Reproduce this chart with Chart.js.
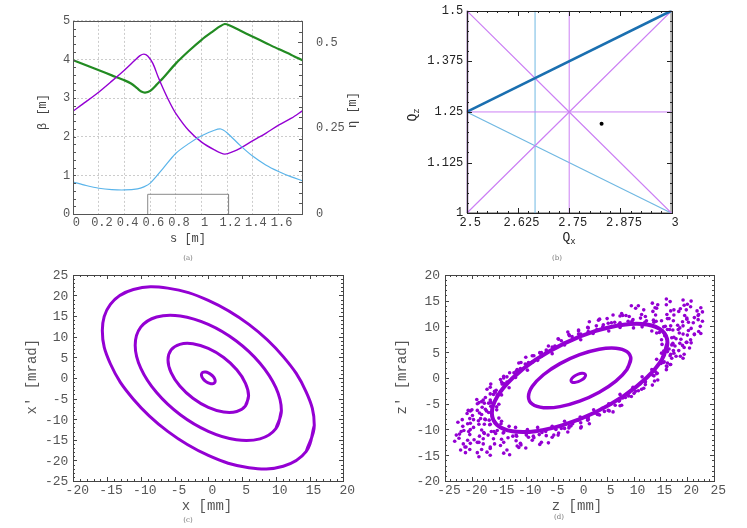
<!DOCTYPE html>
<html>
<head>
<meta charset="utf-8">
<script src="https://cdn.jsdelivr.net/npm/chart.js@4.4.1/dist/chart.umd.min.js"></script>
<style>
body { margin: 0; background: #fff; width: 747px; height: 528px; position: relative; overflow: hidden; }
canvas { position: absolute; }
</style>
</head>
<body>
<canvas id="chart-a" width="380" height="262" style="left:0;top:0"></canvas>
<canvas id="chart-b" width="367" height="262" style="left:380px;top:0"></canvas>
<canvas id="chart-c" width="380" height="266" style="left:0;top:262px"></canvas>
<canvas id="chart-d" width="367" height="266" style="left:380px;top:262px"></canvas>
<script>
// (a) lattice functions along s [m]
var greenS = [0, 0.1, 0.2, 0.3, 0.4, 0.45, 0.5, 0.53, 0.56, 0.6, 0.65, 0.7, 0.8, 0.9, 1.0, 1.08, 1.14, 1.18, 1.22, 1.3, 1.4, 1.5, 1.6, 1.7, 1.785];
var greenBeta = [3.98, 3.85, 3.72, 3.59, 3.46, 3.38, 3.25, 3.17, 3.145, 3.19, 3.35, 3.52, 3.90, 4.22, 4.51, 4.71, 4.85, 4.92, 4.88, 4.75, 4.59, 4.43, 4.27, 4.12, 3.98];
var purpleS = [0, 0.1, 0.2, 0.3, 0.4, 0.48, 0.52, 0.55, 0.58, 0.62, 0.66, 0.7, 0.75, 0.8, 0.9, 1.0, 1.1, 1.18, 1.25, 1.3, 1.4, 1.5, 1.6, 1.7, 1.785];
var purpleBeta = [2.67, 2.91, 3.16, 3.44, 3.73, 3.98, 4.10, 4.14, 4.09, 3.90, 3.56, 3.25, 2.90, 2.60, 2.16, 1.86, 1.66, 1.55, 1.62, 1.70, 1.90, 2.09, 2.30, 2.48, 2.67];
var blueS = [0, 0.1, 0.2, 0.3, 0.4, 0.5, 0.55, 0.6, 0.7, 0.8, 0.9, 1.0, 1.1, 1.15, 1.2, 1.3, 1.4, 1.5, 1.6, 1.7, 1.785];
var blueEta = [0.093, 0.083, 0.075, 0.071, 0.070, 0.073, 0.079, 0.090, 0.133, 0.177, 0.205, 0.228, 0.244, 0.2475, 0.236, 0.200, 0.168, 0.143, 0.124, 0.108, 0.097];
var magnetS = [0.58, 0.58, 1.21, 1.21];
var magnetH = [0, 0.51, 0.51, 0];

// (b) tune diagram: resonance lines and working point
var qLineMain = [[2.5, 1.25], [3, 1.5]];
var qLineThird = [[2.6667, 1], [2.6667, 1.5]];
var qLineCouple = [[2.5, 1.25], [3, 1]];
var qLineQuarterX = [[2.75, 1], [2.75, 1.5]];
var qLineQuarterZ = [[2.5, 1.25], [3, 1.25]];
var qLineDiffDown = [[2.5, 1.5], [2.75, 1.25], [3, 1]];
var qLineDiffUp = [[2.5, 1], [2.75, 1.25], [3, 1.5]];
var qLineInteger = [[2.5, 1], [2.5, 1.5]];
var qEdgeRight = [[3, 1], [3, 1.5]];
var qEdgeBottom = [[2.5, 1], [3, 1]];
var workingPoint = [[2.829, 1.221]];

// (c) horizontal phase space x [mm], x' [mrad]
var xRing1 = [[15.7, -11.5], [14.51, -17.83], [11.1, -21.42], [6.01, -21.77], [0, -18.8], [-6.01, -12.97], [-11.1, -5.16], [-14.51, 3.43], [-15.7, 11.5], [-14.51, 17.83], [-11.1, 21.42], [-6.01, 21.77], [0, 18.8], [6.01, 12.97], [11.1, 5.16], [14.51, -3.43]];
var xRing2 = [[10.83, -7.94], [10.01, -12.3], [7.66, -14.78], [4.15, -15.02], [0, -12.97], [-4.15, -8.95], [-7.66, -3.56], [-10.01, 2.37], [-10.83, 7.94], [-10.01, 12.3], [-7.66, 14.78], [-4.15, 15.02], [0, 12.97], [4.15, 8.95], [7.66, 3.56], [10.01, -2.37]];
var xRing3 = [[5.97, -4.37], [5.51, -6.78], [4.22, -8.14], [2.28, -8.27], [0, -7.14], [-2.28, -4.93], [-4.22, -1.96], [-5.51, 1.3], [-5.97, 4.37], [-5.51, 6.78], [-4.22, 8.14], [-2.28, 8.27], [0, 7.14], [2.28, 4.93], [4.22, 1.96], [5.51, -1.3]];
var xRing4 = [[1.02, -0.75], [0.94, -1.16], [0.72, -1.39], [0.39, -1.42], [0, -1.22], [-0.39, -0.84], [-0.72, -0.34], [-0.94, 0.22], [-1.02, 0.75], [-0.94, 1.16], [-0.72, 1.39], [-0.39, 1.42], [0, 1.22], [0.39, 0.84], [0.72, 0.34], [0.94, -0.22]];

// (d) vertical phase space z [mm], z' [mrad]
var zTinyRing = [[1.11, 0.51], [0.93, 0.08], [0.43, -0.38], [-0.25, -0.73], [-0.93, -0.89], [-1.43, -0.81], [-1.61, -0.51], [-1.43, -0.08], [-0.93, 0.38], [-0.25, 0.73], [0.43, 0.89], [0.93, 0.81]];
var zInnerRing = [[9.5, 3.65], [8.78, 1.64], [6.72, -0.61], [3.64, -2.77], [0, -4.51], [-3.64, -5.57], [-6.72, -5.77], [-8.78, -5.1], [-9.5, -3.65], [-8.78, -1.64], [-6.72, 0.61], [-3.64, 2.77], [0, 4.51], [3.64, 5.57], [6.72, 5.77], [8.78, 5.1]];
var zBandRing = [[16.3, 6.8], [15.32, 3.65], [12.49, 0.07], [8.15, -3.53], [2.84, -6.7], [-2.84, -9.06], [-8.15, -10.33], [-12.49, -10.35], [-15.32, -9.13], [-16.3, -6.8], [-15.32, -3.65], [-12.49, -0.07], [-8.15, 3.53], [-2.84, 6.7], [2.84, 9.06], [8.15, 10.33], [12.49, 10.35], [15.32, 9.13]];
var zBandPoints = [
  [15.3, 6.5], [15.2, 4.8], [14.3, 3.6], [13.4, 1.6], [11.6, 0.2], [9.9, -1.8], [7.5, -3.2], [5.4, -5.0], [2.6, -6.2], [0.1, -7.6], [-2.8, -8.4], [-5.1, -9.4], [-7.8, -9.6], [-9.7, -10.0], [-11.9, -9.6], [-13.1, -9.4], [-14.5, -8.4], [-15.0, -7.8],
  [-15.4, -6.2], [-15.0, -5.1], [-14.5, -3.3], [-13.1, -1.9], [-11.9, 0.1], [-9.7, 1.5], [-7.8, 3.4], [-5.1, 4.7], [-2.8, 6.4], [0.2, 7.4], [2.5, 8.6], [5.4, 9.1], [7.5, 9.8], [10.0, 9.7], [11.6, 9.9], [13.4, 9.1], [14.3, 8.7], [15.2, 7.4],
  [17.3, 6.7], [16.9, 4.6], [15.7, 3.1], [14.4, 0.9], [12.2, -0.8], [10.1, -3.0], [7.3, -4.5], [4.6, -6.5], [1.4, -7.8], [-1.6, -9.3], [-4.4, -10.0], [-7.5, -11.0], [-9.9, -11.1], [-12.4, -11.3], [-14.2, -10.7], [-15.9, -10.4], [-16.7, -9.1], [-17.5, -8.1],
  [-17.3, -6.4], [-16.9, -4.9], [-15.7, -2.8], [-14.4, -1.2], [-12.2, 1.0], [-10.1, 2.7], [-7.3, 4.8], [-4.6, 6.2], [-1.4, 8.0], [1.6, 9.0], [4.4, 10.3], [7.5, 10.7], [9.9, 11.3], [12.4, 11.1], [14.2, 11.0], [15.9, 10.0], [16.7, 9.4], [17.5, 7.9],
  [15.8, 8.2], [16.2, 7.6], [14.8, 8.8], [16.6, 5.6], [15.6, 5.2], [-15.8, -8.4], [-16.2, -7.4], [-14.6, -8.9], [-16.5, -5.5], [-15.4, -5.6],
  [17.1, 6.4], [16.3, 5.1], [15.5, 3.0], [13.8, 1.5], [12.2, -0.7], [9.6, -2.4], [7.4, -4.4], [4.2, -5.9], [1.6, -7.6], [-1.3, -8.9], [-4.6, -9.7], [-7.0, -10.6], [-9.9, -10.8], [-11.8, -11.1], [-14.1, -10.6], [-15.3, -10.2], [-16.6, -9.0], [-16.8, -8.2],
  [-16.9, -6.7], [-16.5, -4.8], [-15.3, -3.3], [-14.1, -1.1], [-11.9, 0.5], [-9.9, 2.6], [-7.1, 4.2], [-4.5, 6.1], [-1.4, 7.4], [1.6, 8.7], [4.3, 9.9], [7.3, 10.4], [9.7, 11.0], [12.1, 10.8], [13.8, 10.8], [15.6, 9.9], [16.3, 9.4], [17.1, 7.8]
];
var zOuterPoints = [
  [17.9, 7.6], [17.3, 6.5], [16.8, 4.3], [15.1, 2.8], [13.8, 0.4], [11.2, -1.2], [9.1, -3.5], [5.8, -5.0], [3.3, -7.1], [-0.3, -8.2], [-2.8, -9.8], [-6.3, -10.4], [-8.6, -11.3], [-11.7, -11.3], [-13.3, -11.6], [-15.6, -10.8], [-16.4, -10.4], [-17.7, -9.0],
  [-17.6, -8.0], [-17.5, -6.1], [-16.5, -4.7], [-15.5, -2.4], [-13.5, -0.8], [-11.6, 1.5], [-8.7, 3.1], [-6.2, 5.4], [-2.9, 6.7], [0.2, 8.5], [3.2, 9.4], [5.9, 10.7], [9.0, 11.0], [11.3, 11.6], [13.7, 11.2], [15.2, 11.1], [16.9, 10.1], [17.3, 9.3],
  [21.1, 10.7], [21.3, 8.4], [19.8, 6.9], [18.7, 4.2], [16.1, 2.3], [13.9, -0.6], [10.4, -2.6], [7.5, -5.4], [3.5, -7.1], [0.3, -9.5], [-3.9, -10.7], [-7.1, -12.5], [-10.9, -13.0], [-13.5, -14.0], [-16.6, -13.7], [-18.2, -13.9], [-20.3, -12.7], [-20.8, -12.1],
  [-21.5, -10.2], [-20.8, -8.9], [-20.3, -6.4], [-18.2, -4.6], [-16.6, -1.8], [-13.5, 0.2], [-10.9, 3.0], [-7.1, 4.9], [-3.9, 7.5], [-0.2, 9.1], [3.5, 11.2], [7.5, 12.0], [10.4, 13.5], [14.0, 13.6], [16.1, 14.2], [18.7, 13.4], [19.8, 13.2], [21.3, 11.7],
  [19.2, 8.5], [19.1, 6.3], [17.5, 4.8], [16.2, 2.2], [13.6, 0.5], [11.5, -2.2], [8.0, -3.9], [5.3, -6.3], [1.5, -8.2], [-1.9, -9.4], [-4.8, -11.1], [-8.5, -11.6], [-11.0, -12.7], [-14.1, -12.5], [-15.8, -12.8], [-17.9, -11.8], [-18.6, -11.3], [-19.7, -9.6],
  [-19.7, -8.1], [-18.6, -6.8], [-17.9, -4.3], [-15.8, -2.6], [-14.1, 0.0], [-11.0, 1.8], [-8.5, 4.3], [-4.8, 5.9], [-1.9, 8.2], [1.5, 9.8], [5.3, 10.6], [8.0, 12.1], [11.5, 12.3], [13.6, 12.9], [16.2, 12.3], [17.5, 12.2], [19.1, 10.9], [19.2, 10.1],
  [22.8, 11.0], [22.5, 8.6], [20.7, 6.8], [19.2, 3.8], [16.1, 1.6], [13.5, -1.4], [9.6, -3.6], [6.2, -6.6], [1.8, -8.9], [-2.2, -10.5], [-5.8, -12.6], [-10.0, -13.6], [-13.0, -14.9], [-16.6, -15.0], [-18.7, -15.3], [-21.2, -14.5], [-22.1, -14.0], [-23.2, -12.3],
  [-22.9, -11.1], [-22.6, -8.6], [-20.7, -6.3], [-19.1, -4.2], [-16.5, -1.2], [-13.0, 1.0], [-10.0, 4.0], [-5.8, 6.2], [-2.2, 8.9], [1.8, 10.9], [6.2, 12.2], [9.6, 14.0], [13.5, 14.5], [16.1, 15.3], [19.2, 15.1], [20.7, 14.9], [22.5, 13.6], [22.8, 12.8],
  [16.6, 11.5], [18.2, 10.2], [18.3, 9.4], [18.8, 7.5], [17.7, 6.2], [17.1, 3.8], [-17.0, -11.1], [-17.8, -10.6], [-18.7, -9.0], [-18.4, -7.9], [-18.1, -5.7], [-16.6, -4.3],
  [17.5, 13.2], [19.5, 12.1], [19.9, 11.4], [20.7, 9.6], [20.0, 8.3], [19.4, 5.9], [17.9, 4.2], [-17.9, -12.8], [-19.0, -12.5], [-20.4, -11.0], [-20.3, -10.0], [-20.4, -7.9], [-19.0, -6.3], [-17.5, -3.8],
  [20.0, 14.3], [21.8, 13.0], [22.0, 12.1], [22.4, 10.0], [21.3, 8.5], [20.4, 5.8], [-20.4, -13.9], [-21.3, -13.4], [-22.4, -11.7], [-22.0, -10.4], [-21.8, -8.1], [-20.0, -6.2],
  [18.5, 8.7], [18.6, 6.7], [17.4, 5.3], [16.3, 2.9], [14.1, 1.2], [12.2, -1.3], [9.1, -3.0], [6.6, -5.3], [3.0, -6.8], [0.2, -8.7], [-3.4, -9.8], [-6.2, -11.2], [-9.5, -11.5], [-11.8, -12.2], [-14.5, -11.9], [-16.0, -11.8], [-17.7, -10.8], [-18.2, -10.1],
  [-18.8, -8.3], [-18.2, -7.1], [-17.7, -4.9], [-16.0, -3.2], [-14.5, -0.8], [-11.8, 1.3], [-9.5, 3.0], [-6.2, 5.0], [-3.4, 7.2], [-0.2, 8.5], [3.1, 10.1], [6.5, 10.8], [9.2, 11.9], [12.2, 11.9], [14.1, 12.2], [16.3, 11.5], [17.4, 11.1], [18.6, 9.7],
  [20.2, 9.2], [19.9, 6.9], [18.4, 5.3], [16.9, 2.6], [14.3, 0.8], [11.9, -2.0], [8.5, -3.8], [5.5, -6.4], [1.6, -8.0], [-2.0, -9.7], [-5.1, -11.5], [-8.8, -12.1], [-11.6, -13.2], [-14.7, -13.1], [-16.6, -13.4], [-18.7, -12.5], [-19.6, -12.0], [-20.6, -10.4],
  [-20.3, -8.8], [-19.9, -7.3], [-18.7, -4.8], [-16.6, -3.1], [-14.7, -0.3], [-11.6, 1.6], [-8.8, 4.3], [-5.1, 6.0], [-2.0, 8.4], [1.6, 9.7], [5.1, 11.5], [8.6, 12.1], [11.9, 13.2], [14.3, 13.5], [16.9, 13.0], [18.4, 12.9], [19.9, 11.6], [20.2, 10.8],
  [22.0, 11.3], [22.1, 9.0], [20.6, 7.4], [19.4, 4.6], [16.8, 2.6], [14.5, -0.4], [10.9, -2.5], [7.8, -5.3], [3.7, -7.2], [0.2, -9.7], [-4.0, -11.1], [-7.4, -12.9], [-11.3, -13.5], [-14.1, -14.6], [-17.2, -14.4], [-19.0, -14.5], [-21.1, -13.4], [-21.6, -12.8],
  [-22.3, -10.9], [-21.7, -9.4], [-20.9, -6.9], [-19.0, -5.0], [-17.2, -2.2], [-14.1, 0.3], [-11.3, 2.9], [-7.4, 4.9], [-4.0, 7.6], [-0.2, 9.3], [3.7, 11.4], [7.8, 12.5], [10.9, 14.0], [14.5, 14.2], [16.8, 14.8], [19.4, 14.1], [20.6, 13.8], [22.1, 12.3]
];

var MONO = "'Liberation Mono', 'DejaVu Sans Mono', monospace";
var VIOLET = '#9400d3';
var LIGHT_VIOLET = '#cc80f4';
var LIGHT_BLUE = '#70b8e2';

function zip(xs, ys) {
    return xs.map(function (x, i) { return { x: x, y: ys[i] }; });
}
function toXY(pts) {
    return pts.map(function (p) { return { x: p[0], y: p[1] }; });
}
// closed loop: repeat the first two points so the spline closes smoothly
function loop(pts) {
    return toXY(pts.concat([pts[0], pts[1]]));
}
function fmt(v) {
    return String(Math.round(v * 1000) / 1000);
}

function line(data, color, width, yAxisID) {
    return {
        data: data, showLine: true, borderColor: color, backgroundColor: color, borderWidth: width,
        pointRadius: 0, tension: 0, fill: false, yAxisID: yAxisID || 'y'
    };
}
function dots(data, color, radius) {
    return {
        data: data, showLine: false, pointRadius: radius, pointBackgroundColor: color,
        borderColor: color, backgroundColor: color, pointBorderWidth: 0
    };
}

// frame around the plot area with inward tick marks
function framePlugin(color, width, tickSets) {
    return {
        id: 'frame',
        afterDatasetsDraw: function (chart) {
            var ctx = chart.ctx, a = chart.chartArea;
            var L = Math.round(a.left), R = Math.round(a.right), T = Math.round(a.top), B = Math.round(a.bottom);
            ctx.save();
            ctx.fillStyle = color;
            tickSets.forEach(function (t) {
                var sc = chart.scales[t.scale];
                var n = Math.round((sc.max - sc.min) / t.step);
                for (var i = 0; i <= n; i++) {
                    var v = sc.min + i * t.step;
                    var r = v / t.major;
                    var len = Math.abs(r - Math.round(r)) < 1e-6 ? t.bigLen : t.len;
                    var p = Math.round(sc.getPixelForValue(v));
                    t.sides.forEach(function (side) {
                        if (side === 'left') ctx.fillRect(L, p, len, 1);
                        if (side === 'right') ctx.fillRect(R - len, p, len, 1);
                        if (side === 'bottom') ctx.fillRect(p, B - len, 1, len);
                        if (side === 'top') ctx.fillRect(p, T, 1, len);
                    });
                }
            });
            var w = Math.max(1, Math.round(width));
            ctx.fillRect(L - w + 1, T, R - L + 2 * w - 1, w);
            ctx.fillRect(L - w + 1, B, R - L + 2 * w - 1, w);
            ctx.fillRect(L - w + 1, T, w, B - T + w);
            ctx.fillRect(R, T, w, B - T + w);
            ctx.restore();
        }
    };
}

// axis titles and captions, drawn at canvas coordinates
function textPlugin(items) {
    return {
        id: 'texts',
        afterDraw: function (chart) {
            var ctx = chart.ctx;
            items.forEach(function (it) {
                ctx.save();
                ctx.translate(it.x, it.y);
                if (it.rot) ctx.rotate(it.rot * Math.PI / 180);
                ctx.fillStyle = it.color || '#444';
                ctx.textBaseline = 'middle';
                ctx.textAlign = 'left';
                ctx.font = it.font;
                var w = ctx.measureText(it.text).width, sw = 0;
                if (it.sub) {
                    ctx.font = it.subFont;
                    sw = ctx.measureText(it.sub).width;
                    ctx.font = it.font;
                }
                var x0 = -(w + sw) / 2;
                ctx.fillText(it.text, x0, 0);
                if (it.sub) {
                    ctx.font = it.subFont;
                    ctx.fillText(it.sub, x0 + w, 4);
                }
                ctx.restore();
            });
        }
    };
}

function baseOptions(padding, scales) {
    return {
        responsive: false,
        animation: false,
        events: [],
        layout: { padding: padding },
        plugins: { legend: { display: false }, tooltip: { enabled: false } },
        scales: scales
    };
}

function linAxis(position, min, max, step, size, tickOpts, gridOpts) {
    return {
        type: 'linear', position: position, min: min, max: max,
        afterFit: function (s) {
            if (position === 'left' || position === 'right') s.width = size; else s.height = size;
        },
        ticks: Object.assign({
            stepSize: step, includeBounds: false, autoSkip: false, maxRotation: 0,
            callback: fmt, color: '#555', font: { family: MONO, size: 12 }, padding: 3
        }, tickOpts || {}),
        grid: Object.assign({ display: false, drawTicks: false }, gridOpts || {}),
        border: { display: false, dash: [2, 2] }
    };
}

var captionFont = "7px 'DejaVu Serif', serif";

// ---------- (a) ----------
var aSets = [
    line(zip(magnetS, magnetH), '#8a8a8a', 1),
    line(zip(blueS, blueEta), '#5ab4ea', 1.2, 'y2'),
    line(zip(purpleS, purpleBeta), VIOLET, 1.4),
    line(zip(greenS, greenBeta), '#228b22', 2.2)
];
aSets[1].tension = 0.3;
aSets[2].tension = 0.3;
aSets[3].tension = 0.3;

new Chart(document.getElementById('chart-a'), {
    type: 'scatter',
    data: { datasets: aSets },
    options: baseOptions({ top: 10 }, {
        x: linAxis('bottom', 0, 1.785, 0.2, 48, { padding: 2, labelOffset: 3 }, { display: true, color: '#cccccc' }),
        y: linAxis('left', 0, 5, 1, 73.3, { padding: 3 }, { display: true, color: '#cccccc' }),
        y2: linAxis('right', 0, 0.5625, 0.25, 77.7, { padding: 13.7 })
    }),
    plugins: [
        framePlugin('#555', 1, [
            { scale: 'y', step: 0.2, major: 1, len: 3, bigLen: 3, sides: ['left'] },
            { scale: 'y2', step: 0.03125, major: 0.25, len: 3, bigLen: 4, sides: ['right'] }
        ]),
        textPlugin([
            { text: 'β [m]', x: 43, y: 112, rot: -90, font: '12px ' + MONO },
            { text: 'η [m]', x: 353, y: 110, rot: -90, font: '12px ' + MONO },
            { text: 's [m]', x: 188, y: 239, font: '12px ' + MONO },
            { text: '(a)', x: 188, y: 258, font: captionFont, color: '#777' }
        ])
    ]
});

// ---------- (b) ----------
// datasets listed first are drawn on top
new Chart(document.getElementById('chart-b'), {
    type: 'scatter',
    data: {
        datasets: [
            dots(toXY(workingPoint), '#000', 2),
            line(toXY(qLineInteger), '#55127e', 3),
            line(toXY(qLineMain), '#1a6fb0', 2.6),
            line(toXY(qLineDiffUp), LIGHT_VIOLET, 1.2),
            line(toXY(qLineDiffDown), LIGHT_VIOLET, 1.2),
            line(toXY(qLineQuarterX), LIGHT_VIOLET, 1),
            line(toXY(qLineQuarterZ), LIGHT_VIOLET, 1),
            line(toXY(qLineThird), LIGHT_BLUE, 1),
            line(toXY(qLineCouple), LIGHT_BLUE, 1.2),
            line(toXY(qEdgeRight), '#8c8c8c', 2.5),
            line(toXY(qEdgeBottom), '#8c8c8c', 2)
        ]
    },
    options: baseOptions({ top: 10, right: 75.3 }, {
        x: linAxis('bottom', 2.5, 3, 0.125, 48.7, { padding: 2, labelOffset: 3.5, color: '#222' }),
        y: linAxis('left', 1, 1.5, 0.125, 86.7, { padding: 3.4, color: '#222' })
    }),
    plugins: [
        framePlugin('#222', 1, [
            { scale: 'x', step: 0.025, major: 0.125, len: 2, bigLen: 5, sides: ['top', 'bottom'] },
            { scale: 'y', step: 0.025, major: 0.125, len: 2, bigLen: 5, sides: ['left', 'right'] }
        ]),
        textPlugin([
            { text: 'Q', sub: 'x', x: 189, y: 238, font: '13px ' + MONO, subFont: '9px ' + MONO, color: '#222' },
            { text: 'Q', sub: 'z', x: 33, y: 115, rot: -90, font: '13px ' + MONO, subFont: '9px ' + MONO, color: '#222' },
            { text: '(b)', x: 177, y: 258, font: captionFont, color: '#777' }
        ])
    ]
});

// ---------- (c) ----------
function ringLine(pts, width) {
    var d = line(loop(pts), VIOLET, width);
    d.tension = 0.4;
    return d;
}
new Chart(document.getElementById('chart-c'), {
    type: 'scatter',
    data: {
        datasets: [ringLine(xRing1, 3), ringLine(xRing2, 3), ringLine(xRing3, 3), ringLine(xRing4, 3)]
    },
    options: baseOptions({ top: 9.7, right: 36.7 }, {
        x: linAxis('bottom', -20, 20, 5, 47, { padding: 2, labelOffset: 4, font: { family: MONO, size: 13 } }),
        y: linAxis('left', -25, 25, 5, 73.3, { padding: 5, labelOffset: 1, font: { family: MONO, size: 13 } })
    }),
    plugins: [
        framePlugin('#444', 1, [
            { scale: 'x', step: 1, major: 5, len: 2, bigLen: 4, sides: ['top', 'bottom'] },
            { scale: 'y', step: 1, major: 5, len: 2, bigLen: 4, sides: ['left', 'right'] }
        ]),
        textPlugin([
            { text: 'x [mm]', x: 207, y: 244.7, font: '14px ' + MONO, color: '#555' },
            { text: "x' [mrad]", x: 32, y: 114.7, rot: -90, font: '14px ' + MONO, color: '#555' },
            { text: '(c)', x: 188, y: 258, font: captionFont, color: '#777' }
        ])
    ]
});

// ---------- (d) ----------
new Chart(document.getElementById('chart-d'), {
    type: 'scatter',
    data: {
        datasets: [
            dots(toXY(zOuterPoints), VIOLET, 1.8),
            dots(toXY(zBandPoints), VIOLET, 1.8),
            ringLine(zBandRing, 4),
            ringLine(zInnerRing, 3.5),
            ringLine(zTinyRing, 3)
        ]
    },
    options: baseOptions({ top: 9, right: 32.7 }, {
        x: linAxis('bottom', -25, 25, 5, 47, { padding: 2, labelOffset: 4, font: { family: MONO, size: 13 } }),
        y: linAxis('left', -20, 20, 5, 65, { padding: 5, labelOffset: 1, font: { family: MONO, size: 13 } })
    }),
    plugins: [
        framePlugin('#444', 1, [
            { scale: 'x', step: 1, major: 5, len: 2, bigLen: 4, sides: ['top', 'bottom'] },
            { scale: 'y', step: 1, major: 5, len: 2, bigLen: 4, sides: ['left', 'right'] }
        ]),
        textPlugin([
            { text: 'z [mm]', x: 197, y: 244.7, font: '14px ' + MONO, color: '#555' },
            { text: "z' [mrad]", x: 22.7, y: 114.7, rot: -90, font: '14px ' + MONO, color: '#555' },
            { text: '(d)', x: 179, y: 255, font: captionFont, color: '#777' }
        ])
    ]
});
</script>
</body>
</html>
